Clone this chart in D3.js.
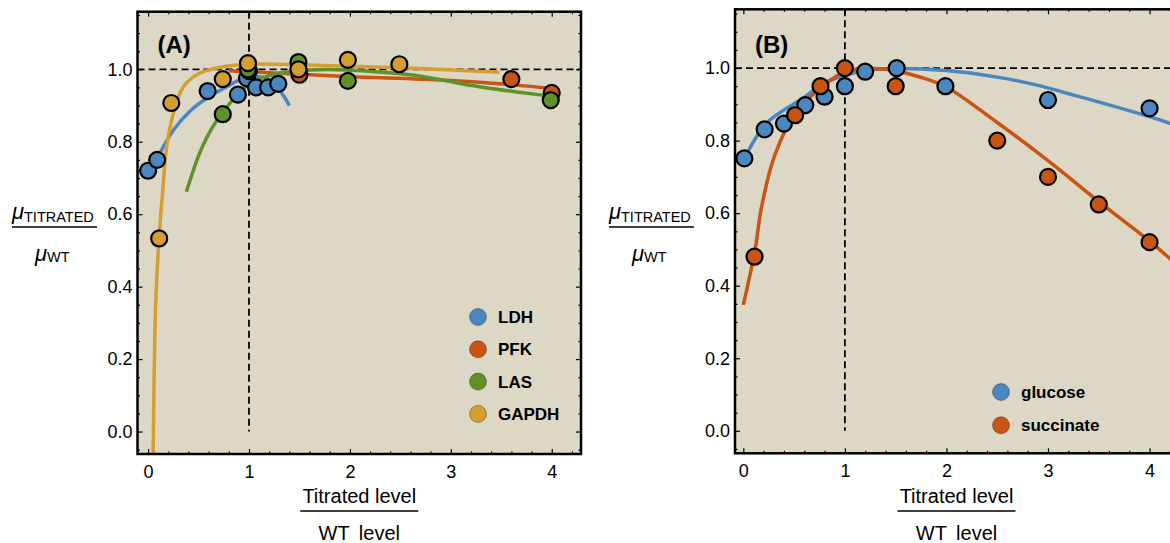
<!DOCTYPE html>
<head>
<meta charset="utf-8">
<style type="text/css">
body { margin: 0; background: white; }
text { font-family: "Liberation Sans", Arial, sans-serif; fill: black; }
.tick line { stroke: black; stroke-width: 1.2; }
.tick text { font-size: 18px; }
</style>
</head>
<body>
<script src="https://d3js.org/d3.v7.min.js"></script>
<script type="text/javascript">
  // tick labels
  var xTicks = [0, 1, 2, 3, 4];
  var yTicks = [0, 0.2, 0.4, 0.6, 0.8, 1.0];

  // panel A: measured points
  var ldhPts = [[0, 0.72], [0.09, 0.75], [0.59, 0.94], [0.89, 0.93], [0.98, 0.975], [1.07, 0.95], [1.19, 0.95], [1.29, 0.96]];
  var pfkPts = [[1.0, 0.995], [1.5, 0.985], [3.6, 0.973], [4.0, 0.935]];
  var lasPts = [[0.74, 0.876], [0.99, 1.0], [1.49, 1.02], [1.98, 0.968], [3.99, 0.915]];
  var gapdhPts = [[0.11, 0.533], [0.23, 0.907], [0.74, 0.973], [0.99, 1.017], [1.49, 1.0], [1.98, 1.026], [2.49, 1.014]];

  // panel A: fitted curves
  var ldhFit = [[0.05, 0.73], [0.12, 0.77], [0.25, 0.832], [0.41, 0.883], [0.58, 0.92], [0.78, 0.952], [0.94, 0.975], [1.05, 0.98], [1.17, 0.975], [1.3, 0.943], [1.4, 0.9]];
  var pfkFit = [[0.8, 0.996], [1.0, 0.993], [1.3, 0.989], [1.96, 0.98], [2.95, 0.97], [3.62, 0.957], [4.0, 0.947]];
  var lasFit = [[0.38, 0.662], [0.51, 0.768], [0.64, 0.841], [0.81, 0.906], [0.97, 0.952], [1.17, 0.98], [1.4, 0.993], [1.7, 0.999], [1.96, 0.998], [2.62, 0.984], [3.28, 0.952], [3.98, 0.926]];
  var gapdhFit = [[0.05, -0.07], [0.075, 0.35], [0.11, 0.54], [0.15, 0.68], [0.18, 0.777], [0.25, 0.878], [0.35, 0.952], [0.51, 0.989], [0.74, 1.007], [1.0, 1.014], [1.57, 1.012], [2.62, 1.003], [3.48, 0.992]];

  // panel B
  var glucosePts = [[0.01, 0.751], [0.21, 0.831], [0.4, 0.847], [0.61, 0.898], [0.8, 0.921], [1.0, 0.95], [1.2, 0.99], [1.51, 1.0], [1.99, 0.95], [3.0, 0.912], [4.0, 0.889]];
  var succinatePts = [[0.11, 0.48], [0.51, 0.87], [0.76, 0.95], [1.0, 1.0], [1.5, 0.95], [2.5, 0.8], [3.0, 0.7], [3.5, 0.624], [4.0, 0.52]];
  var glucoseFit = [[0, 0.745], [0.23, 0.848], [0.56, 0.912], [0.82, 0.962], [1.0, 0.98], [1.22, 0.994], [1.5, 0.999], [2.0, 0.993], [2.5, 0.975], [2.86, 0.955], [3.3, 0.922], [4.0, 0.866], [4.28, 0.84]];
  var succinateFit = [[0, 0.347], [0.115, 0.498], [0.18, 0.618], [0.31, 0.76], [0.53, 0.884], [0.76, 0.944], [1.0, 0.99], [1.28, 0.999], [1.54, 0.99], [1.8, 0.97], [2.0, 0.948], [2.5, 0.85], [3.0, 0.745], [3.5, 0.632], [4.0, 0.523], [4.28, 0.455]];

  var colors = {blue: '#4a86c0', red: '#c95414', green: '#5e9128', gold: '#d49e32'};

  var svg = d3.select('body').append('svg')
          .attr('width', 1170)
          .attr('height', 543);

  function drawPanel(p) {
    var x = d3.scaleLinear().domain(p.xDom).range([p.left, p.right]);
    var y = d3.scaleLinear().domain(p.yDom).range([p.bottom, p.top]);
    var g = svg.append('g');

    // background
    g.append('rect')
            .attr('x', p.left).attr('y', p.top)
            .attr('width', p.right - p.left).attr('height', p.bottom - p.top)
            .attr('fill', '#ddd7c6');

    var clipId = 'clip' + p.name;
    g.append('clipPath').attr('id', clipId).append('rect')
            .attr('x', p.left).attr('y', p.top)
            .attr('width', p.right - p.left).attr('height', p.bottom - p.top);

    // reference lines
    g.append('line')
            .attr('x1', p.left).attr('x2', p.right)
            .attr('y1', y(1)).attr('y2', y(1))
            .attr('stroke', 'black').attr('stroke-width', 1.8).attr('stroke-dasharray', '7,4');
    g.append('line')
            .attr('x1', x(1)).attr('x2', x(1))
            .attr('y1', p.top).attr('y2', y(0))
            .attr('stroke', 'black').attr('stroke-width', 1.8).attr('stroke-dasharray', '7,4');

    var line = d3.line()
            .x(function(d){ return x(d[0]); })
            .y(function(d){ return y(d[1]); })
            .curve(d3.curveCatmullRom.alpha(0.5));

    var plot = g.append('g').attr('clip-path', 'url(#' + clipId + ')');
    p.series.forEach(function(s){
      plot.append('path')
              .attr('d', line(s.fit))
              .attr('fill', 'none')
              .attr('stroke', s.color)
              .attr('stroke-width', 3.5);
    });
    p.series.forEach(function(s){
      plot.selectAll(null)
              .data(s.pts)
              .enter()
              .append('circle')
              .attr('cx', function(d){ return x(d[0]); })
              .attr('cy', function(d){ return y(d[1]); })
              .attr('r', 8)
              .attr('fill', s.color)
              .attr('stroke', 'black')
              .attr('stroke-width', 2.2);
    });

    // axes: ticks point inwards on all four sides
    var xMinor = d3.range(0, 4.3, 0.2).filter(function(v){ return Math.abs(v - Math.round(v)) > 1e-6; });
    var yMinor = d3.range(-0.05, 1.16, 0.05).filter(function(v){ return Math.abs(v * 5 - Math.round(v * 5)) > 1e-6; });

    g.append('g').attr('transform', 'translate(0,' + p.bottom + ')')
            .call(d3.axisBottom(x).tickValues(xTicks).tickSize(-5).tickPadding(11).tickFormat(d3.format('d')));
    g.append('g').attr('transform', 'translate(0,' + p.bottom + ')')
            .call(d3.axisBottom(x).tickValues(xMinor).tickSize(-2.5).tickFormat(''));
    g.append('g').attr('transform', 'translate(0,' + p.top + ')')
            .call(d3.axisTop(x).tickValues(xTicks).tickSize(-5).tickFormat(''));
    g.append('g').attr('transform', 'translate(0,' + p.top + ')')
            .call(d3.axisTop(x).tickValues(xMinor).tickSize(-2.5).tickFormat(''));
    g.append('g').attr('transform', 'translate(' + p.left + ',0)')
            .call(d3.axisLeft(y).tickValues(yTicks).tickSize(-5).tickPadding(5).tickFormat(d3.format('.1f')));
    g.append('g').attr('transform', 'translate(' + p.left + ',0)')
            .call(d3.axisLeft(y).tickValues(yMinor).tickSize(-2.5).tickFormat(''));
    g.append('g').attr('transform', 'translate(' + p.right + ',0)')
            .call(d3.axisRight(y).tickValues(yTicks).tickSize(-5).tickFormat(''));
    g.append('g').attr('transform', 'translate(' + p.right + ',0)')
            .call(d3.axisRight(y).tickValues(yMinor).tickSize(-2.5).tickFormat(''));
    g.selectAll('.domain').remove();
    g.selectAll('.tick text').attr('fill', 'black');

    // frame
    g.append('rect')
            .attr('x', p.left).attr('y', p.top)
            .attr('width', p.right - p.left).attr('height', p.bottom - p.top)
            .attr('fill', 'none').attr('stroke', 'black').attr('stroke-width', 2.5);

    // panel letter
    g.append('text')
            .attr('x', p.left + 20).attr('y', 53)
            .attr('font-size', 24).attr('font-weight', 'bold')
            .text('(' + p.name + ')');

    // legend
    p.series.forEach(function(s, i){
      var ly = p.legendY + i * p.legendStep;
      g.append('circle')
              .attr('cx', p.legendX).attr('cy', ly).attr('r', 8.5)
              .attr('fill', s.color)
              .attr('stroke', 'rgba(0,0,0,0.3)').attr('stroke-width', 1);
      g.append('text')
              .attr('x', p.legendX + 20).attr('y', ly + 6)
              .attr('font-size', 17).attr('font-weight', 'bold')
              .text(s.name);
    });

    // y label: mu_TITRATED / mu_WT
    var lx = p.yLabelX;
    g.append('text').attr('x', lx).attr('y', 219)
            .attr('font-size', 22).attr('font-style', 'italic').text('μ');
    g.append('text').attr('x', lx + 12).attr('y', 221.5)
            .attr('font-size', 14.5).text('TITRATED');
    g.append('line')
            .attr('x1', lx).attr('x2', lx + 85)
            .attr('y1', 227).attr('y2', 227)
            .attr('stroke', 'black').attr('stroke-width', 1.5);
    g.append('text').attr('x', lx + 23).attr('y', 261)
            .attr('font-size', 22).attr('font-style', 'italic').text('μ');
    g.append('text').attr('x', lx + 35).attr('y', 262)
            .attr('font-size', 14.5).text('WT');

    // x label: Titrated level / WT level
    var cx = (p.left + p.right) / 2;
    g.append('text').attr('x', cx).attr('y', 503)
            .attr('text-anchor', 'middle').attr('font-size', 20).text('Titrated level');
    g.append('line')
            .attr('x1', cx - 59).attr('x2', cx + 59)
            .attr('y1', 511).attr('y2', 511)
            .attr('stroke', 'black').attr('stroke-width', 1.5);
    g.append('text').attr('x', cx).attr('y', 540)
            .attr('text-anchor', 'middle').attr('font-size', 20)
            .attr('word-spacing', 4).text('WT level');
  }

  drawPanel({
    name: 'A', left: 137.5, right: 581, top: 11.7, bottom: 454,
    xDom: [-0.105, 4.29], yDom: [-0.062, 1.159],
    legendX: 478, legendY: 317, legendStep: 32.3, yLabelX: 12,
    series: [
      {name: 'LDH', color: colors.blue, pts: ldhPts, fit: ldhFit},
      {name: 'PFK', color: colors.red, pts: pfkPts, fit: pfkFit},
      {name: 'LAS', color: colors.green, pts: lasPts, fit: lasFit},
      {name: 'GAPDH', color: colors.gold, pts: gapdhPts, fit: gapdhFit}
    ]
  });

  drawPanel({
    name: 'B', left: 735, right: 1178, top: 9.3, bottom: 453.3,
    xDom: [-0.082, 4.28], yDom: [-0.062, 1.162],
    legendX: 1001, legendY: 392, legendStep: 33.3, yLabelX: 609,
    series: [
      {name: 'glucose', color: colors.blue, pts: glucosePts, fit: glucoseFit},
      {name: 'succinate', color: colors.red, pts: succinatePts, fit: succinateFit}
    ]
  });
</script>
</body>
